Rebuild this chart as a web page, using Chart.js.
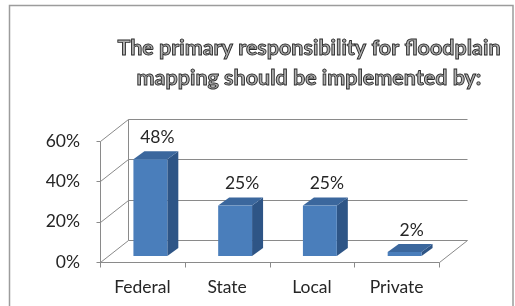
<!DOCTYPE html>
<html>
<head>
<meta charset="utf-8">
<script src="https://cdn.jsdelivr.net/npm/chart.js@4.4.1/dist/chart.umd.min.js"></script>
<style>
  html, body { margin: 0; padding: 0; background: #fff; }
  #wrap { width: 515px; height: 306px; }
</style>
</head>
<body>
<div id="wrap"><canvas id="chart" width="515" height="306"></canvas></div>
<script>
// data
const categories = ["Federal", "State", "Local", "Private"];
const values = [48, 25, 25, 2];
const yTicks = [0, 20, 40, 60];
const titleLines = ["The primary responsibility for floodplain", "mapping should be implemented by:"];

// 3d look
const DX = 28, DY = -22;   // depth of the walls
const OX = 8, OY = -6;     // where the bar front sits inside the depth
const BX = 11, BY = -8;    // depth of each bar
const textColor = "#262626";
const gridColor = "#8a8a8a";

function line(ctx, pts) {
    ctx.beginPath();
    ctx.moveTo(pts[0][0], pts[0][1]);
    for (let i = 1; i < pts.length; i++) ctx.lineTo(pts[i][0], pts[i][1]);
    ctx.stroke();
}

function poly(ctx, pts, color) {
    ctx.beginPath();
    ctx.moveTo(pts[0][0], pts[0][1]);
    for (let i = 1; i < pts.length; i++) ctx.lineTo(pts[i][0], pts[i][1]);
    ctx.closePath();
    ctx.fillStyle = color;
    ctx.fill();
}

const threeD = {
    id: "threeD",
    beforeDraw(chart) {
        const ctx = chart.ctx;
        ctx.save();
        ctx.fillStyle = "#fff";
        ctx.fillRect(0, 0, chart.width, chart.height);
        // frame
        ctx.strokeStyle = "#9c9c9c";
        ctx.lineWidth = 1.5;
        line(ctx, [[9.5, 306], [9.5, 5.5], [513, 5.5], [513, 306]]);
        // title, outlined text
        ctx.font = "bold 21.5px Lato";
        ctx.textAlign = "center";
        ctx.textBaseline = "alphabetic";
        ctx.lineWidth = 0.9;
        ctx.strokeStyle = "#2a2a2a";
        ctx.fillStyle = "#b0b0b0";
        titleLines.forEach((t, i) => {
            ctx.fillText(t, 309, 55 + i * 30);
            ctx.strokeText(t, 309, 55 + i * 30);
        });
        ctx.restore();
    },
    beforeDatasetsDraw(chart) {
        const { ctx, chartArea: a, scales: { x, y } } = chart;
        ctx.save();
        ctx.strokeStyle = gridColor;
        ctx.lineWidth = 1;
        const y0 = Math.round(y.getPixelForValue(0)) + 0.5;
        const yTop = Math.round(y.getPixelForValue(yTicks[yTicks.length - 1])) + 0.5;
        const left = Math.round(a.left) + 0.5;
        const right = Math.round(a.right) + 0.5;
        yTicks.forEach(v => {
            const py = Math.round(y.getPixelForValue(v)) + 0.5;
            line(ctx, [[left, py], [left + DX, py + DY], [right + DX, py + DY]]);
            line(ctx, [[left - 4, py], [left, py]]);
        });
        // back wall edge, front axis
        line(ctx, [[left + DX, y0 + DY], [left + DX, yTop + DY]]);
        line(ctx, [[left, yTop], [left, y0 + 5]]);
        // floor
        line(ctx, [[left, y0], [right, y0], [right + DX, y0 + DY]]);
        const n = categories.length;
        for (let i = 1; i <= n; i++) {
            const xx = Math.round(a.left + i * (a.right - a.left) / n) + 0.5;
            line(ctx, [[xx, y0], [xx, y0 + 5]]);
        }
        ctx.restore();
    },
    afterDatasetsDraw(chart) {
        const ctx = chart.ctx;
        const meta = chart.getDatasetMeta(0);
        ctx.save();
        meta.data.forEach((bar, i) => {
            const p = bar.getProps(["x", "y", "base", "width"], true);
            const w = p.width;
            const fx = p.x - w / 2 + OX;
            const ft = p.y + OY;
            const fb = p.base + OY;
            // side
            poly(ctx, [[fx + w, ft], [fx + w + BX, ft + BY], [fx + w + BX, fb + BY], [fx + w, fb]], "#2e5586");
            // top
            poly(ctx, [[fx, ft], [fx + BX, ft + BY], [fx + w + BX, ft + BY], [fx + w, ft]], "#3b679d");
            // front
            ctx.fillStyle = "#4a7ebb";
            ctx.fillRect(fx, ft, w, fb - ft);
            // value label
            ctx.font = "17.5px Lato";
            ctx.fillStyle = textColor;
            ctx.textAlign = "center";
            ctx.textBaseline = "middle";
            ctx.fillText(values[i] + "%", p.x + OX + 7, ft + BY - 14);
        });
        ctx.restore();
    }
};

new Chart(document.getElementById("chart"), {
    type: "bar",
    data: {
        labels: categories,
        datasets: [{
            data: values,
            backgroundColor: "rgba(0,0,0,0)",
            borderWidth: 0,
            barPercentage: 0.4,
            categoryPercentage: 1.0
        }]
    },
    options: {
        responsive: false,
        animation: false,
        layout: { padding: { top: 141, right: 76, left: 0, bottom: 0 } },
        plugins: {
            legend: { display: false },
            title: { display: false },
            tooltip: { enabled: false }
        },
        scales: {
            x: {
                grid: { display: false, drawTicks: false },
                border: { display: false },
                ticks: { font: { family: "Lato", size: 17.5 }, color: textColor, padding: 15 },
                afterFit(s) { s.height = 44; }
            },
            y: {
                min: 0,
                max: 60,
                afterBuildTicks(s) { s.ticks = yTicks.map(v => ({ value: v })); },
                ticks: {
                    callback: v => v + "%",
                    font: { family: "Lato", size: 17.5 },
                    color: textColor,
                    padding: 20
                },
                grid: { display: false, drawTicks: false },
                border: { display: false },
                afterFit(s) { s.width = 100; }
            }
        }
    },
    plugins: [threeD]
});
</script>
</body>
</html>
